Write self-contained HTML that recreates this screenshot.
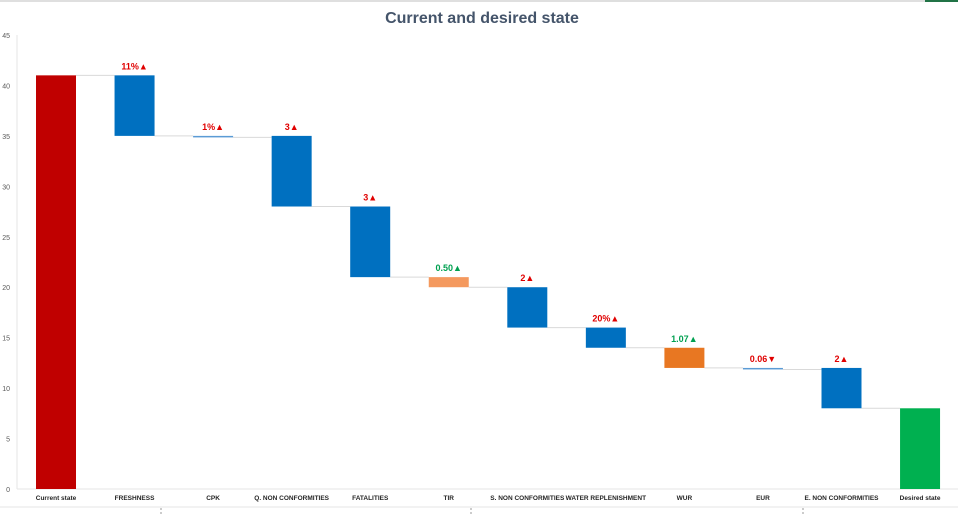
<!DOCTYPE html>
<html><head><meta charset="utf-8"><style>
html,body{margin:0;padding:0;background:#fff;}
svg{display:block;font-family:"Liberation Sans",sans-serif;}
</style></head><body>
<svg id="chart" width="958" height="516">
<line x1="0" y1="1" x2="958" y2="1" stroke="#bfbfbf"/>
<line x1="925" y1="1" x2="958" y2="1" stroke="#217346" stroke-width="2"/>
<line x1="0" y1="507" x2="958" y2="507" stroke="#e6e6e6"/>
<text x="482" y="23" text-anchor="middle" font-size="16" font-weight="bold" fill="#44546A">Current and desired state</text>
<line x1="17" y1="35" x2="17" y2="489" stroke="#e6e6e6"/>
<line x1="17" y1="489" x2="958" y2="489" stroke="#e6e6e6"/>
<g id="yticks"></g><g id="connectors"></g><g id="bars"></g><g id="labels"></g><g id="xlabels"></g>
<line x1="161" y1="508" x2="161" y2="516" stroke="#999" stroke-dasharray="2,2"/>
<line x1="471" y1="508" x2="471" y2="516" stroke="#999" stroke-dasharray="2,2"/>
<line x1="803" y1="508" x2="803" y2="516" stroke="#999" stroke-dasharray="2,2"/>
</svg>
<script>
const categories=["Current state","FRESHNESS","CPK","Q. NON CONFORMITIES","FATALITIES","TIR","S. NON CONFORMITIES","WATER REPLENISHMENT","WUR","EUR","E. NON CONFORMITIES","Desired state"];
const barStart=[0,41,35,35,28,21,20,16,14,12,12,0];
const barEnd=[41,35,34.85,28,21,20,16,14,12,11.85,8,8];
const barLabels=["","11%▲","1%▲","3▲","3▲","0.50▲","2▲","20%▲","1.07▲","0.06▼","2▲",""];
const labelGood=[false,false,false,false,false,true,false,false,true,false,false,false];
const barColors=["#C00000","#0070C0","#5B9BD5","#0070C0","#0070C0","#F4995E","#0070C0","#0070C0","#E87722","#5B9BD5","#0070C0","#00B050"];
const yTicks=[0,5,10,15,20,25,30,35,40,45];
const NS="http://www.w3.org/2000/svg";
const y=v=>489-v*(454/45);
const x=i=>56+i*78.55;
const bw=40;
function mk(tag,parent,attrs){const e=document.createElementNS(NS,tag);for(const k in attrs)e.setAttribute(k,attrs[k]);document.getElementById(parent).appendChild(e);return e;}
yTicks.forEach(t=>{
  const e=mk("text","yticks",{x:10,y:y(t)+3,"text-anchor":"end","font-size":"7",fill:"#595959"});
  e.textContent=t;
  
  
});
categories.forEach((c,i)=>{
  const top=Math.max(barStart[i],barEnd[i]),bot=Math.min(barStart[i],barEnd[i]);
  const h=Math.max(1.5,y(bot)-y(top));
  const r=mk("rect","bars",{x:x(i)-bw/2,y:y(top),width:bw,height:h,fill:barColors[i]});
  
  
  if(i<categories.length-1){
    const l=mk("line","connectors",{x1:x(i)+bw/2,x2:x(i+1)-bw/2,y1:y(barEnd[i]),y2:y(barEnd[i]),stroke:"#d9d9d9"});
    
    
  }
  if(barLabels[i]){
    const t=mk("text","labels",{x:x(i),y:y(top)-6,"text-anchor":"middle","font-size":"9","font-weight":"bold",fill:labelGood[i]?"#00A050":"#E00000"});
    t.textContent=barLabels[i];
    
    
  }
  const xl=mk("text","xlabels",{x:x(i),y:500,"text-anchor":"middle","font-size":"6.5","font-weight":"bold",fill:"#262626"});
  xl.textContent=c;
  
  
});
</script>
</body></html>
